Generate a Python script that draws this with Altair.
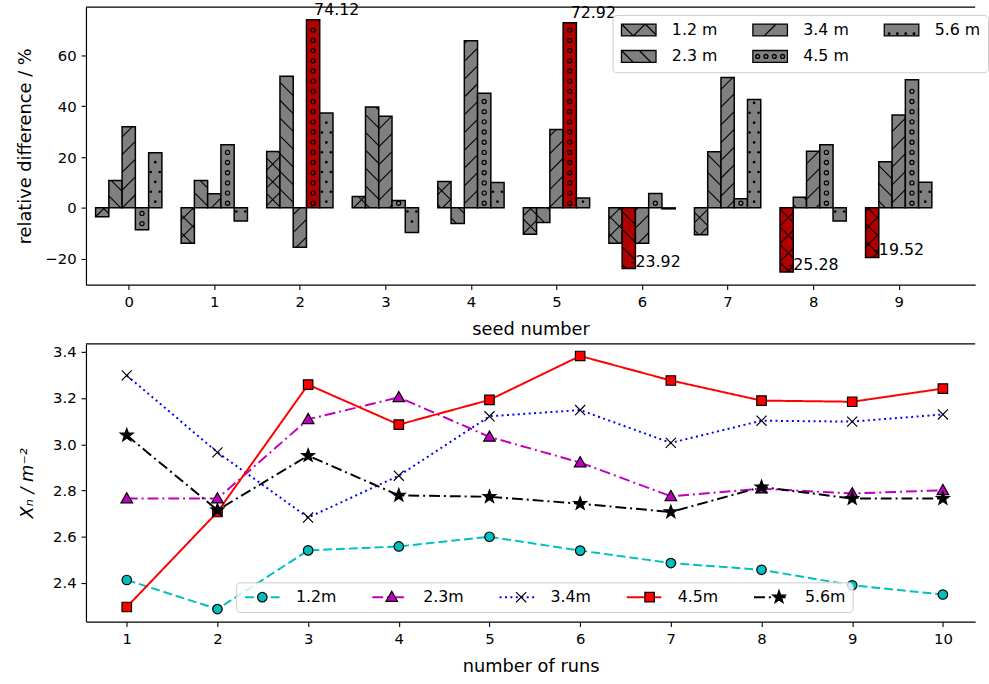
import altair as alt
import pandas as pd
import numpy as np

# ---------------- data: top panel ----------------
seeds = list(range(10))
series_top = ["1.2 m", "2.3 m", "3.4 m", "4.5 m", "5.6 m"]
diff_12 = [-3.5, -13.9, 22.2, 4.5, 10.4, -10.4, -13.9, -10.6, -25.28, -19.52]
diff_23 = [10.8, 10.8, 51.8, 39.7, -6.2, -5.8, -23.92, 22.1, 4.2, 18.2]
diff_34 = [31.9, 5.6, -15.5, 36.1, 65.8, 30.9, -13.9, 51.3, 22.3, 36.6]
diff_45 = [-8.6, 24.9, 74.12, 2.9, 45.1, 72.92, 5.7, 3.6, 24.9, 50.5]
diff_56 = [21.7, -5.2, 37.4, -9.7, 10.0, 3.9, -0.4, 42.7, -5.2, 10.1]
hl_seed = [2, 5, 6, 8, 9]
hl_series = ["4.5 m", "4.5 m", "2.3 m", "1.2 m", "1.2 m"]

# ---------------- data: bottom panel ----------------
runs = list(range(1, 11))
series_bot = ["1.2m", "2.3m", "3.4m", "4.5m", "5.6m"]
xn_12 = [2.413, 2.287, 2.541, 2.558, 2.600, 2.540, 2.486, 2.457, 2.390, 2.350]
xn_23 = [2.765, 2.765, 3.108, 3.203, 3.032, 2.921, 2.775, 2.808, 2.787, 2.801]
xn_34 = [3.298, 2.965, 2.683, 2.864, 3.121, 3.148, 3.006, 3.102, 3.098, 3.129]
xn_45 = [2.296, 2.707, 3.258, 3.085, 3.192, 3.382, 3.276, 3.189, 3.184, 3.241]
xn_56 = [3.039, 2.715, 2.951, 2.779, 2.773, 2.743, 2.707, 2.815, 2.765, 2.765]

# ---------------- layout ----------------
PW, PH1, PH2 = 900, 281, 281
BW = 0.155
XD1 = [-0.5, -0.5 + PW / 86.59]
YD1 = [-30.25, 79.09]
XD2 = [0.55, 0.55 + PW / 91.78]
YD2 = [2.233, 3.434]
FONT = "DejaVu Sans"
GRAY = "#808080"
DARKRED = "#B20000"

top_vals = [diff_12, diff_23, diff_34, diff_45, diff_56]
rows = []
for i, s in enumerate(series_top):
    for sd, v in zip(seeds, top_vals[i]):
        hl = any(sd == a and s == b for a, b in zip(hl_seed, hl_series))
        rows.append(dict(seed=sd, series=s, idx=i, value=v, hl=hl))
bars = pd.DataFrame(rows)

# hatch geometry derived from the bars (pixel-space pattern, converted back to data units)
SX = PW / (XD1[1] - XD1[0])
SY = PH1 / (YD1[1] - YD1[0])
px_x = lambda v: (v - XD1[0]) * SX
px_y = lambda v: (v - YD1[0]) * SY
dx_ = lambda p: p / SX + XD1[0]
dy_ = lambda p: p / SY + YD1[0]
HATCH = {"1.2 m": "x", "2.3 m": "\\", "3.4 m": "/", "4.5 m": "o", "5.6 m": "."}
S = 18.0
segs, circles, dots = [], [], []
for _, r in bars.iterrows():
    xl = r.seed + (r.idx - 2) * BW - BW / 2
    X0, X1 = px_x(xl), px_x(xl + BW)
    Y0, Y1 = sorted([px_y(0.0), px_y(r.value)])
    kind = HATCH[r.series]
    fams = []
    if kind in ("/", "x"):
        fams.append(1)
    if kind in ("\\", "x"):
        fams.append(-1)
    for sg in fams:
        cmin, cmax = (Y0 - X1, Y1 - X0) if sg == 1 else (Y0 + X0, Y1 + X1)
        for k in range(int(np.floor(cmin / S)) - 1, int(np.ceil(cmax / S)) + 1):
            c = k * S + 5
            if sg == 1:
                xa, xb = max(X0, Y0 - c), min(X1, Y1 - c)
                ya, yb = xa + c, xb + c
            else:
                xa, xb = max(X0, c - Y1), min(X1, c - Y0)
                ya, yb = c - xa, c - xb
            if xb - xa > 0.8:
                segs.append(dict(xa=dx_(xa), xb=dx_(xb), ya=dy_(ya), yb=dy_(yb)))
    xc = (X0 + X1) / 2
    if kind == "o":
        step = 10.3
        for k in range(int(np.floor(Y0 / step)), int(np.ceil(Y1 / step)) + 1):
            yc = k * step
            if Y0 + 2.5 <= yc <= Y1 - 2.5:
                circles.append(dict(x=dx_(xc), y=dy_(yc)))
    if kind == ".":
        step = 10.0
        for k in range(int(np.floor(Y0 / step)), int(np.ceil(Y1 / step)) + 1):
            yc = k * step + 4
            if Y0 + 2 <= yc <= Y1 - 2:
                xs = [xc] if k % 2 == 0 else [X0 + 2.2, X1 - 2.2]
                for xx in xs:
                    dots.append(dict(x=dx_(xx), y=dy_(yc)))
segs = pd.DataFrame(segs)
circles = pd.DataFrame(circles)
dots = pd.DataFrame(dots)
labels_df = bars[bars.hl].copy()
labels_df["text"] = labels_df["value"].map(lambda v: f"{v:.2f}")

# ---------------- scales / axes ----------------
xs1 = alt.Scale(domain=XD1, nice=False, zero=False)
ys1 = alt.Scale(domain=YD1, nice=False, zero=False)
xs2 = alt.Scale(domain=XD2, nice=False, zero=False)
ys2 = alt.Scale(domain=YD2, nice=False, zero=False)
xax1 = alt.Axis(values=seeds, format="d", labelFlush=False, labelOverlap=False,
                titleY=45, titleBaseline="middle")
yax1 = alt.Axis(values=[-20, 0, 20, 40, 60], titleX=-61, titleBaseline="middle", labelOverlap=False)
xax2 = alt.Axis(values=runs, format="d", labelFlush=False, labelOverlap=False,
                titleY=46, titleBaseline="middle")
yax2 = alt.Axis(values=[2.4, 2.6, 2.8, 3.0, 3.2, 3.4], format=".1f", titleX=-59,
                titleBaseline="middle", titleFontStyle="italic", labelOverlap=False)
T1X, T1Y = "seed number", "relative difference / %"
T2X, T2Y = "number of runs", "Xₙ / m⁻²"


def X1(f):
    return alt.X(f, scale=xs1, axis=xax1, title=T1X)


def Y1(f):
    return alt.Y(f, scale=ys1, axis=yax1, title=T1Y)


def X2(f):
    return alt.X(f, scale=xs2, axis=xax2, title=T2X)


def Y2(f):
    return alt.Y(f, scale=ys2, axis=yax2, title=T2Y)


# ---------------- top panel layers ----------------
bar_layer = alt.Chart(bars).transform_calculate(
    x0=f"datum.seed + (datum.idx - 2) * {BW} - {BW / 2}",
    x1=f"datum.seed + (datum.idx - 2) * {BW} + {BW / 2}",
).mark_rect(stroke="black", strokeWidth=1.5).encode(
    x=X1("x0:Q"), x2="x1:Q", y=Y1("value:Q"), y2=alt.datum(0),
    fill=alt.condition("datum.hl", alt.value(DARKRED), alt.value(GRAY)),
)
hatch_lines = alt.Chart(segs).mark_rule(color="black", strokeWidth=1.1).encode(
    x=X1("xa:Q"), x2="xb:Q", y=Y1("ya:Q"), y2="yb:Q")
hatch_o = alt.Chart(circles).mark_point(shape="circle", filled=False, color="black", size=18,
                                        strokeWidth=1.2, opacity=1).encode(x=X1("x:Q"), y=Y1("y:Q"))
hatch_d = alt.Chart(dots).mark_point(shape="circle", filled=True, color="black", size=7,
                                     opacity=1).encode(x=X1("x:Q"), y=Y1("y:Q"))
lab_base = alt.Chart(labels_df).transform_calculate(xc=f"datum.seed + (datum.idx - 2) * {BW}")
label_pos = lab_base.transform_filter("datum.value > 0").mark_text(
    align="left", baseline="alphabetic", dy=-4.5, dx=1, font=FONT, fontSize=16, color="black"
).encode(x=X1("xc:Q"), y=Y1("value:Q"), text="text:N")
label_neg = lab_base.transform_filter("datum.value < 0").mark_text(
    align="left", baseline="alphabetic", dy=-2, dx=1, font=FONT, fontSize=16, color="black"
).encode(x=X1("xc:Q"), y=Y1("value:Q"), text="text:N")
frame_top = alt.Chart(pd.DataFrame({"a": [0]})).mark_rule(color="black", strokeWidth=1.2).encode(
    x=alt.value(0), x2=alt.value(PW), y=alt.value(0))


def circ(cx, cy, r):
    return (f"M{cx + r:.3f},{cy:.3f}A{r},{r} 0 1,1 {cx - r:.3f},{cy:.3f}"
            f"A{r},{r} 0 1,1 {cx + r:.3f},{cy:.3f}Z")


RECT = "M-1,-1H4.83V1H-1Z"
cxs = [-0.185, 1.215, 2.615, 4.015]
leg_paths = [
    RECT + "M-1,-1L1,1M1,1L3,-1M3,-1L4.83,0.83",
    RECT + "M-1,-1L1,1M2,-1L4,1",
    RECT + "M0.92,1L2.92,-1",
    RECT + "".join(circ(c, 0, 0.33) for c in cxs),
    RECT + "".join(circ(c, 0.62, 0.14) for c in cxs),
]
leg_top = alt.Legend(title=None, orient="none", legendX=533, legendY=8, columns=3, direction="vertical",
                     symbolSize=144, symbolStrokeWidth=1.3, symbolOpacity=1,
                     labelFont=FONT, labelFontSize=16, labelColor="black",
                     labelOffset=37, columnPadding=32, rowPadding=9, padding=7,
                     fillColor="rgba(255,255,255,0.8)", strokeColor="#cccccc",
                     cornerRadius=4, labelLimit=0)
legend_top = alt.Chart(bars).transform_filter("false").mark_point(
    filled=True, size=144, strokeWidth=1.3, opacity=1
).encode(
    x=X1("seed:Q"), y=Y1("value:Q"),
    shape=alt.Shape("series:N", scale=alt.Scale(domain=series_top, range=leg_paths), legend=leg_top),
    fill=alt.Fill("series:N", scale=alt.Scale(domain=series_top, range=[GRAY] * 5), legend=leg_top),
    stroke=alt.Stroke("series:N", scale=alt.Scale(domain=series_top, range=["black"] * 5), legend=leg_top),
)

top = alt.layer(bar_layer, hatch_lines, hatch_o, hatch_d, label_pos, label_neg, frame_top,
                legend_top).properties(width=PW, height=PH1)

# ---------------- bottom panel ----------------
bot_vals = [xn_12, xn_23, xn_34, xn_45, xn_56]
long = pd.DataFrame([dict(run=r_, series=s, value=v)
                     for s, vals in zip(series_bot, bot_vals) for r_, v in zip(runs, vals)])
ZW = "\u200b"
series_bot_m = [s + ZW for s in series_bot]
line_colors = ["#00BFBF", "#BF00BF", "#0000FF", "#FF0000", "#000000"]
dashes = [[9, 4], [11, 4, 2, 4], [2, 3.5], [1, 0], [11, 4, 2, 4]]
pts = []
for k in range(10):
    ang = -np.pi / 2 + k * np.pi / 5
    rad = 1.15 if k % 2 == 0 else 0.47
    pts.append(f"{rad * np.cos(ang):.3f},{rad * np.sin(ang):.3f}")
STAR = "M" + "L".join(pts) + "Z"
marker_paths = [circ(0, 0, 0.8), "M0,-1.0L0.98,0.72L-0.98,0.72Z",
                "M-0.85,-0.85L0.85,0.85M-0.85,0.85L0.85,-0.85", "M-0.8,-0.8H0.8V0.8H-0.8Z", STAR]
marker_fills = ["#00BFBF", "#BF00BF", "#000000", "#FF0000", "#000000"]

leg_common = dict(title=None, orient="none", legendY=241.3, direction="horizontal", columns=5,
                  symbolSize=144, labelFont=FONT, labelFontSize=16, labelColor="black",
                  padding=7, labelLimit=0)
leg_lines = alt.Legend(legendX=152, symbolType="M-1,0H4.83", symbolStrokeWidth=2,
                       labelOffset=37.5, columnPadding=31.8,
                       fillColor="rgba(255,255,255,0.8)", strokeColor="#cccccc", cornerRadius=4,
                       zindex=1, **leg_common)
leg_marks = alt.Legend(legendX=163.5, symbolStrokeWidth=1.2, symbolOpacity=1, labelExpr="''",
                       labelOffset=0, columnPadding=114, zindex=2, **leg_common)

lines = alt.Chart(long).mark_line(strokeWidth=2).encode(
    x=X2("run:Q"), y=Y2("value:Q"),
    color=alt.Color("series:N", scale=alt.Scale(domain=series_bot, range=line_colors), legend=leg_lines),
    strokeDash=alt.StrokeDash("series:N", scale=alt.Scale(domain=series_bot, range=dashes), legend=leg_lines),
)
points = alt.Chart(long).transform_calculate(series_m=f"datum.series + '{ZW}'").mark_point(
    filled=True, size=144, strokeWidth=1.2, opacity=1
).encode(
    x=X2("run:Q"), y=Y2("value:Q"),
    shape=alt.Shape("series_m:N", scale=alt.Scale(domain=series_bot_m, range=marker_paths), legend=leg_marks),
    fill=alt.Fill("series_m:N", scale=alt.Scale(domain=series_bot_m, range=marker_fills), legend=leg_marks),
    stroke=alt.Stroke("series_m:N", scale=alt.Scale(domain=series_bot_m, range=["black"] * 5), legend=leg_marks),
)
frame_bot = alt.Chart(pd.DataFrame({"a": [0]})).mark_rule(color="black", strokeWidth=1.2).encode(
    x=alt.value(0), x2=alt.value(PW), y=alt.value(0))

bottom = alt.layer(lines, points, frame_bot).properties(width=PW, height=PH2)

IND = dict(shape="independent", fill="independent", stroke="independent", strokeDash="independent",
           color="independent")
chart = alt.vconcat(top, bottom, spacing=60, bounds="flush").resolve_scale(**IND).resolve_legend(
    **IND
).properties(
    padding={"left": 17, "top": -2, "right": 0, "bottom": 0}, background="white"
).configure_view(stroke=None).configure_axis(
    labelFont=FONT, labelFontSize=15, labelColor="black", titleFont=FONT, titleFontSize=18,
    titleFontWeight="normal", titleColor="black", tickColor="black", tickSize=5, tickWidth=1.1,
    domainColor="black", domainWidth=1.2, grid=False, labelPadding=5,
)

chart.save("out.html", embed_options={"renderer": "svg", "actions": False})
